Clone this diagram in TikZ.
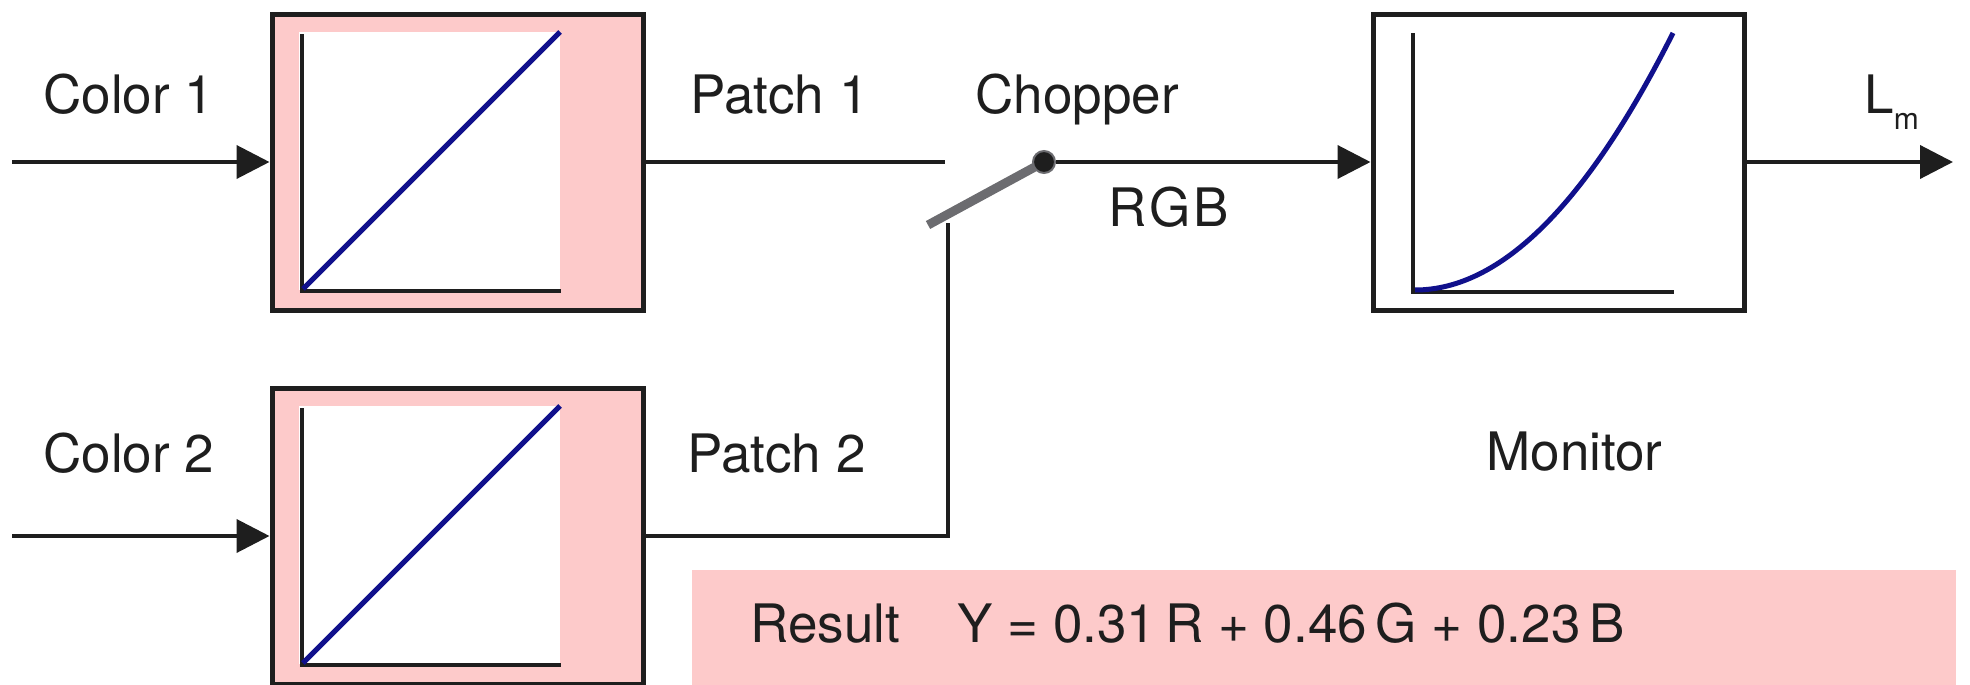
\documentclass[tikz,border=0pt]{standalone}
\usepackage{fontspec}
\setmainfont{TeX Gyre Heros}
\usetikzlibrary{arrows.meta}
\definecolor{pinkfill}{RGB}{253,202,202}
\definecolor{navy}{RGB}{16,16,140}
\definecolor{levergray}{RGB}{108,108,112}
\definecolor{ink}{RGB}{30,30,30}
\begin{document}
\begin{tikzpicture}[x=0.5pt,y=-0.5pt,
  blk/.style={draw=ink, line width=2.5pt, minimum width=185.5pt, minimum height=148pt, inner sep=0pt},
  wire/.style={draw=ink, line width=2pt},
  arr/.style={wire, -{Triangle[length=16.5pt,width=16.5pt]}},
  axisline/.style={draw=ink, line width=2pt},
  resp/.style={draw=navy, line width=2.5pt},
  lbl/.style={anchor=base west, inner sep=0pt, text=ink, font=\fontsize{26.5pt}{30pt}\selectfont},
]
\useasboundingbox (0,0) rectangle (1970,685);

% result band
\fill[pinkfill] (692,570) rectangle (1956,685);

% blocks
\node[blk, fill=pinkfill] (b1) at (457.5,162) {};
\node[blk, fill=pinkfill] (b2) at (457.5,536) {};
\node[blk, fill=white] (mon) at (1558.5,162) {};

% inner graphs of the two patch blocks
\foreach \dy in {0,374}{
  \fill[white] (299,32+\dy) rectangle (560,290+\dy);
  \draw[axisline] (302,34+\dy) -- (302,291+\dy) -- (561,291+\dy);
  \draw[resp] (303,289+\dy) -- (560,32+\dy);
}
% monitor graph
\draw[axisline] (1413,33) -- (1413,292) -- (1674,292);
\draw[resp] (1415,290) .. controls (1501,290) and (1587,204) .. (1673,33);

% coordinates
\coordinate (in1) at (12,162);
\coordinate (in2) at (12,536);
\coordinate (p1end) at (945,162);
\coordinate (p2corner) at (948,536);
\coordinate (p2top) at (948,223);
\coordinate (sw) at (928,225);
\coordinate (out) at (1953,162);

% wires
\draw[arr] (in1) -- (b1.west);
\draw[arr] (in2) -- (b2.west);
\draw[wire] (b1.east) -- (p1end);
\draw[wire] (b2.east) -- (p2corner) -- (p2top);
\draw[levergray, line width=4.5pt] (sw) -- (1044,162);
\node[circle, fill=ink, draw=levergray, line width=1pt, minimum size=11pt, inner sep=0pt] (dot) at (1044,162) {};
\draw[arr] (dot.east) -- (mon.west);
\draw[arr] (mon.east) -- (out);

% labels
\node[lbl] (c1) at (43,113) {Color 1};
\node[lbl] (c2) at (43,472) {Color 2};
\node[lbl] (pt1) at (690,113) {Patch 1};
\node[lbl] (pt2) at (687,472) {Patch 2};
\node[lbl] (ch) at (975,113) {Chopper};
\node[lbl] (rgb) at (1108,226) {R\kern1.5pt G\kern1.5pt B};
\node[lbl] (lm) at (1864,113) {L\raisebox{-8pt}{\fontsize{15pt}{15pt}\selectfont m}};
\node[lbl] (mlab) at (1486,470) {Monitor};
\node[lbl] (res) at (750,642) {Result};
\node[lbl] (eq) at (957,642) {Y = 0.31\,R + 0.46\,G + 0.23\,B};
\end{tikzpicture}
\end{document}
